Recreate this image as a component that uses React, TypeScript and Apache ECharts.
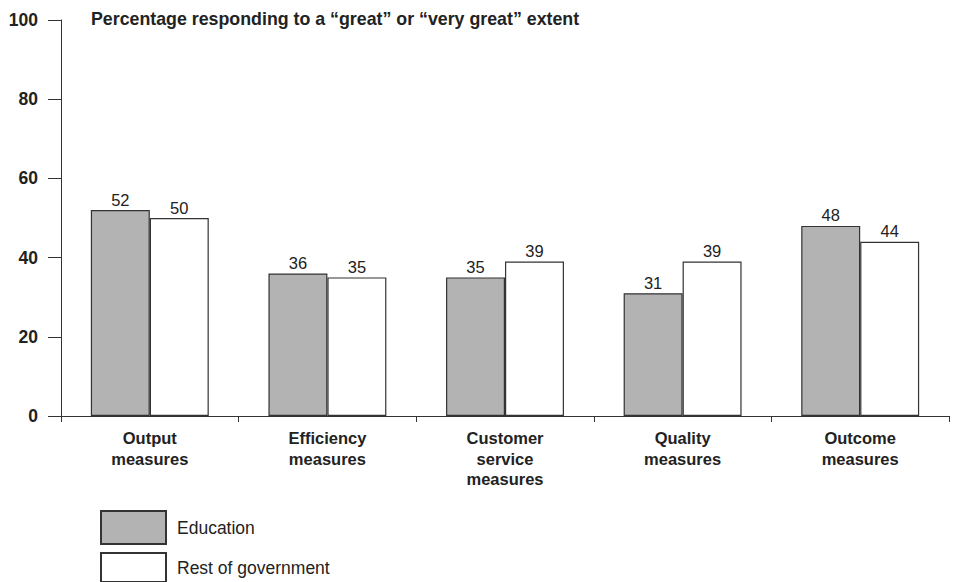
import React, { useEffect, useRef } from "react";
import * as echarts from "echarts";

const categories = ["Output\nmeasures", "Efficiency\nmeasures", "Customer\nservice\nmeasures", "Quality\nmeasures", "Outcome\nmeasures"];
const education = [52, 36, 35, 31, 48];
const restOfGovernment = [50, 35, 39, 39, 44];
const yTicks = [0, 20, 40, 60, 80, 100];

const FONT = "'Liberation Sans', Arial, Helvetica, sans-serif";

export default function App() {
  const ref = useRef<HTMLDivElement>(null);
  useEffect(() => {
    if (!ref.current) return;
    const chart = echarts.init(ref.current, null, { renderer: "svg" });
    const labelStyle = {
      show: true,
      position: "top" as const,
      distance: 2,
      color: "#222",
      fontSize: 16.5,
      fontFamily: FONT,
    };
    const legendBase = {
      orient: "vertical" as const,
      left: 100,
      padding: 0,
      itemWidth: 65,
      icon: "rect",
      textStyle: { fontSize: 17.5, color: "#222", fontFamily: FONT, padding: [0, 0, 0, 6] },
    };
    chart.setOption({
      animation: false,
      backgroundColor: "#fff",
      textStyle: { fontFamily: FONT },
      title: {
        text: "Percentage responding to a \u201cgreat\u201d or \u201cvery great\u201d extent",
        left: 86,
        top: 5,
        textStyle: { fontSize: 17.8, fontWeight: "bold", color: "#222", fontFamily: FONT },
      },
      legend: [
        { ...legendBase, top: 510, itemHeight: 33, data: ["Education"] },
        { ...legendBase, top: 552, itemHeight: 29, data: ["Rest of government"] },
      ],
      grid: { left: 61, right: 8, top: 20, bottom: 166, containLabel: false },
      xAxis: {
        type: "category",
        data: categories,
        boundaryGap: true,
        axisLine: { lineStyle: { color: "#333", width: 1 } },
        axisTick: { show: true, inside: false, length: 6, lineStyle: { color: "#333" } },
        axisLabel: {
          interval: 0,
          margin: 12,
          fontSize: 16.5,
          fontWeight: "bold",
          lineHeight: 20.5,
          color: "#222",
          fontFamily: FONT,
        },
      },
      yAxis: {
        type: "value",
        min: 0,
        max: yTicks[yTicks.length - 1],
        interval: 20,
        axisLine: { show: true, lineStyle: { color: "#333", width: 1 } },
        axisTick: { show: true, length: 13, lineStyle: { color: "#333" } },
        splitLine: { show: false },
        axisLabel: {
          margin: 23,
          fontSize: 17.5,
          fontWeight: "bold",
          color: "#222",
          fontFamily: FONT,
        },
      },
      series: [
        {
          name: "Education",
          type: "bar",
          data: education,
          barWidth: "33.2%",
          barGap: "0%",
          itemStyle: { color: "#b3b3b3", borderColor: "#333", borderWidth: 1.2 },
          label: labelStyle,
        },
        {
          name: "Rest of government",
          type: "bar",
          data: restOfGovernment,
          barWidth: "33.2%",
          barGap: "0%",
          itemStyle: { color: "#ffffff", borderColor: "#333", borderWidth: 1.2 },
          label: labelStyle,
        },
      ],
    });
    return () => chart.dispose();
  }, []);
  return <div ref={ref} style={{ width: 957, height: 582, position: "absolute", left: 0, top: 0 }} />;
}
